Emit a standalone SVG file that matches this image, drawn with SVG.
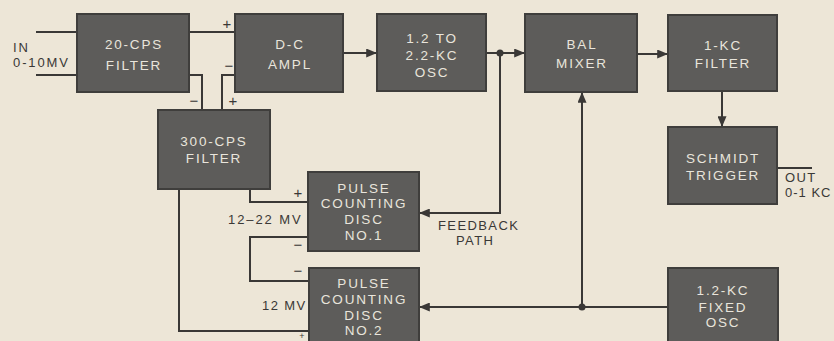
<svg xmlns="http://www.w3.org/2000/svg" width="834" height="341" viewBox="0 0 834 341">
<defs>
<style>
.bg{fill:#ede6d7}
.box{fill:#5d5c5a;stroke:#3f3e3c;stroke-width:2}
.bt{font-family:"Liberation Sans",Arial,sans-serif;font-size:13.5px;fill:#e9e5dc;text-anchor:middle;letter-spacing:1.8px}
.lt{font-family:"Liberation Sans",Arial,sans-serif;font-size:13px;fill:#3a3836;letter-spacing:1.4px}
.pm{font-family:"Liberation Sans",Arial,sans-serif;font-size:15px;fill:#3a3836;text-anchor:middle}
.w{fill:none;stroke:#3a3836;stroke-width:2}
.dot{fill:#3a3836}
</style>
<marker id="ah" viewBox="0 0 12 10" refX="12" refY="5" markerWidth="12" markerHeight="9" markerUnits="userSpaceOnUse" orient="auto">
<path d="M0,0 L12,5 L0,10 z" fill="#3a3836"/>
</marker>
</defs>
<rect class="bg" x="0" y="0" width="834" height="341"/>

<g id="connectors">
<path class="w" d="M36,32 H77"/>
<path class="w" d="M36,75 H77"/>
<path class="w" d="M189,32 H235"/>
<path class="w" d="M189,75 H202 V110"/>
<path class="w" d="M222,110 V75 H235"/>
<path class="w" d="M343,53 H377" marker-end="url(#ah)"/>
<path class="w" d="M486,53 H525" marker-end="url(#ah)"/>
<circle class="dot" cx="500" cy="53" r="3.5"/>
<path class="w" d="M500,53 V213 H419" marker-end="url(#ah)"/>
<path class="w" d="M637,54 H668" marker-end="url(#ah)"/>
<path class="w" d="M722,91 V127" marker-end="url(#ah)"/>
<path class="w" d="M777,168 H812"/>
<path class="w" d="M668,307 H419" marker-end="url(#ah)"/>
<circle class="dot" cx="582" cy="307" r="3.5"/>
<path class="w" d="M582,307 V92" marker-end="url(#ah)"/>
<path class="w" d="M250,189 V202 H308"/>
<path class="w" d="M308,237 H250 V281 H309"/>
<path class="w" d="M179,189 V331 H309"/>
</g>

<g id="labels">
<text class="lt" x="13" y="52" style="letter-spacing:2px">IN</text>
<text class="lt" x="13" y="67" style="letter-spacing:1.9px">0-10MV</text>
<text class="pm" x="227" y="29">+</text>
<text class="pm" x="229" y="71">−</text>
<text class="pm" x="194" y="106">−</text>
<text class="pm" x="233" y="106">+</text>
<text class="pm" x="298" y="198">+</text>
<text class="pm" x="298" y="250">−</text>
<text class="pm" x="298" y="276">−</text>
<text class="pm" x="302" y="339" style="font-size:9px">+</text>
<text class="lt" x="228" y="224" style="letter-spacing:1.9px">12–22 MV</text>
<text class="lt" x="262" y="310">12 MV</text>
<text class="lt" x="438" y="230">FEEDBACK</text>
<text class="lt" x="456" y="245">PATH</text>
<text class="lt" x="785" y="182">OUT</text>
<text class="lt" x="785" y="197" style="letter-spacing:1px">0-1 KC</text>
</g>

<g id="filter20">
<rect class="box" x="77" y="14" width="112" height="78"/>
<text class="bt" x="134" y="49">20-CPS</text>
<text class="bt" x="134" y="70">FILTER</text>
</g>
<g id="dcampl">
<rect class="box" x="235" y="14" width="108" height="78"/>
<text class="bt" x="290" y="49">D-C</text>
<text class="bt" x="290" y="69">AMPL</text>
</g>
<g id="osc">
<rect class="box" x="377" y="14" width="109" height="77"/>
<text class="bt" x="432" y="43">1.2 TO</text>
<text class="bt" x="432" y="60">2.2-KC</text>
<text class="bt" x="432" y="77">OSC</text>
</g>
<g id="balmixer">
<rect class="box" x="525" y="14" width="112" height="78"/>
<text class="bt" x="582" y="49">BAL</text>
<text class="bt" x="582" y="68">MIXER</text>
</g>
<g id="filter1kc">
<rect class="box" x="668" y="15" width="109" height="76"/>
<text class="bt" x="723" y="50">1-KC</text>
<text class="bt" x="723" y="68">FILTER</text>
</g>
<g id="schmidt">
<rect class="box" x="668" y="127" width="109" height="77"/>
<text class="bt" x="723" y="163">SCHMIDT</text>
<text class="bt" x="723" y="180">TRIGGER</text>
</g>
<g id="filter300">
<rect class="box" x="158" y="110" width="112" height="79"/>
<text class="bt" x="214" y="146">300-CPS</text>
<text class="bt" x="214" y="163">FILTER</text>
</g>
<g id="disc1">
<rect class="box" x="308" y="172" width="111" height="79"/>
<text class="bt" x="364" y="193">PULSE</text>
<text class="bt" x="364" y="208">COUNTING</text>
<text class="bt" x="364" y="224">DISC</text>
<text class="bt" x="364" y="240">NO.1</text>
</g>
<g id="disc2">
<rect class="box" x="309" y="268" width="110" height="90"/>
<text class="bt" x="364" y="288">PULSE</text>
<text class="bt" x="364" y="304">COUNTING</text>
<text class="bt" x="364" y="320">DISC</text>
<text class="bt" x="364" y="335">NO.2</text>
</g>
<g id="fixedosc">
<rect class="box" x="668" y="268" width="110" height="90"/>
<text class="bt" x="723" y="295">1.2-KC</text>
<text class="bt" x="723" y="312">FIXED</text>
<text class="bt" x="723" y="327">OSC</text>
</g>
</svg>
